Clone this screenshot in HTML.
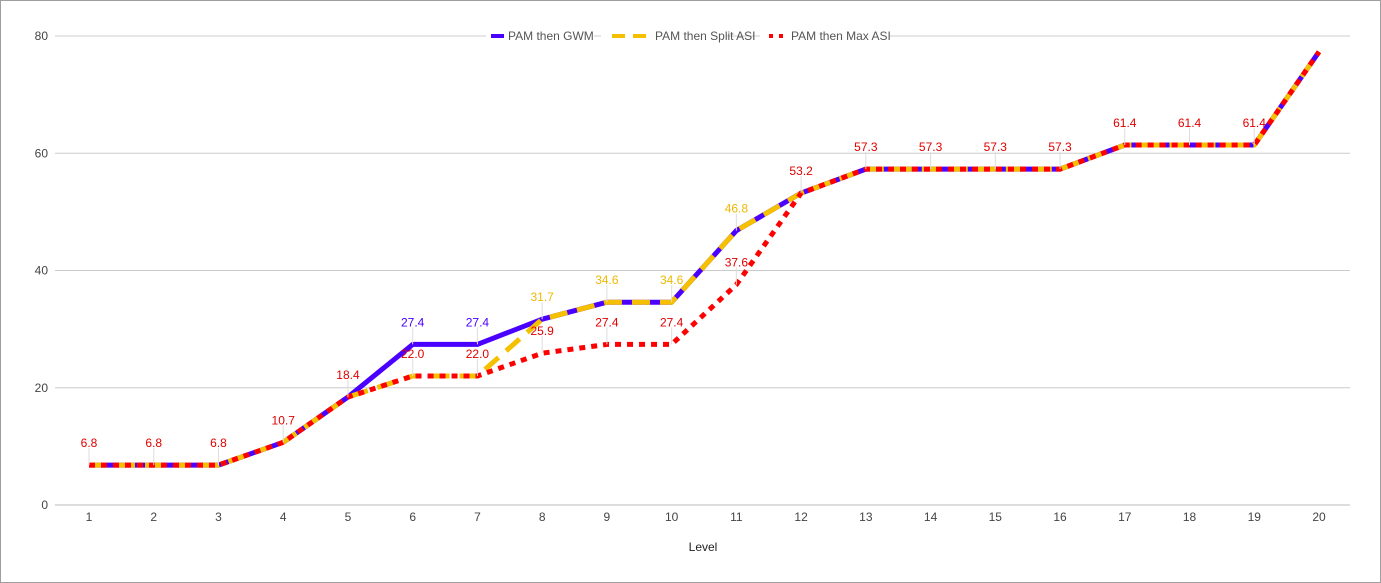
<!DOCTYPE html>
<html><head><meta charset="utf-8"><style>
html,body{margin:0;padding:0;background:#fff}
svg{display:block;font-family:"Liberation Sans",Arial,sans-serif}
</style></head><body>
<svg id="s" width="1381" height="583" viewBox="0 0 1381 583" xmlns="http://www.w3.org/2000/svg">
<rect x="0.5" y="0.5" width="1380" height="582" fill="#fff" stroke="#9e9e9e"/>
</svg>
<script>
const s=document.getElementById('s');
const NS='http://www.w3.org/2000/svg';
function el(t,a,txt){const e=document.createElementNS(NS,t);for(const k in a)e.setAttribute(k,a[k]);if(txt!==undefined)e.textContent=txt;s.appendChild(e);return e;}
const X=i=>89+(i-1)*(1230/19), Y=v=>505-v*5.8625;
[0,20,40,60,80].forEach(v=>{el('line',{x1:55,x2:1350,y1:Y(v),y2:Y(v),stroke:v==0?'#bbb':'#ccc','stroke-width':1});
el('text',{x:48,y:Y(v)+4,'text-anchor':'end','font-size':12,fill:'#444'},v);});
for(let i=1;i<=20;i++)el('text',{x:X(i),y:521,'text-anchor':'middle','font-size':12,fill:'#444'},i);
el('text',{x:703,y:551,'text-anchor':'middle','font-size':12,fill:'#222'},'Level');
const g=[6.8,6.8,6.8,10.7,18.4,27.4,27.4,31.7,34.6,34.6,46.8,53.2,57.3,57.3,57.3,57.3,61.4,61.4,61.4,77.3];
const sp=g.slice();sp[5]=22;sp[6]=22;
const mx=g.slice();mx[5]=22;mx[6]=22;mx[7]=25.9;mx[8]=27.4;mx[9]=27.4;mx[10]=37.6;
const pts=a=>a.map((v,i)=>X(i+1).toFixed(1)+','+Y(v).toFixed(1)).join(' ');
function lab(i,v,c){const x=X(i+1),y=Y(v);el('line',{x1:x,x2:x,y1:y-17,y2:y,stroke:'#ddd','stroke-width':1});
el('text',{x:x,y:y-18,'text-anchor':'middle','font-size':12,fill:c},v.toFixed(1));}
el('polyline',{points:pts(g),fill:'none',stroke:'#4a00ff','stroke-width':5,'stroke-linejoin':'round'});
el('polyline',{points:pts(sp),fill:'none',stroke:'#f5c000','stroke-width':5,'stroke-dasharray':'18 10'});
el('polyline',{points:pts(mx),fill:'none',stroke:'#ff0000','stroke-width':5,'stroke-dasharray':'6 6'});
for(let i=0;i<19;i++){
 if(i==5||i==6)lab(i,g[i],'#4a00ff');
 else if(i>=7&&i<=10)lab(i,g[i],'#f0b800');
 if(i>=5&&i<=10)lab(i,mx[i],'#e00000'); else lab(i,g[i],'#e00000');
}
el('line',{x1:460,x2:920,y1:36,y2:36,stroke:'#ccc'});
el('rect',{x:486,y:33,width:108,height:8,fill:'#fff'});
el('rect',{x:601,y:33,width:125,height:8,fill:'#fff'});
el('rect',{x:760,y:33,width:130,height:8,fill:'#fff'});
el('rect',{x:491,y:34,width:13,height:4,fill:'#4a00ff'});
el('text',{x:508,y:40,'font-size':12,fill:'#555'},'PAM then GWM');
el('rect',{x:612,y:34,width:13,height:4,fill:'#f5c000'});
el('rect',{x:633,y:34,width:13,height:4,fill:'#f5c000'});
el('text',{x:655,y:40,'font-size':12,fill:'#555'},'PAM then Split ASI');
el('rect',{x:769,y:34,width:4,height:4,fill:'#f00'});
el('rect',{x:779,y:34,width:4,height:4,fill:'#f00'});
el('text',{x:791,y:40,'font-size':12,fill:'#555'},'PAM then Max ASI');
</script>
</body></html>
